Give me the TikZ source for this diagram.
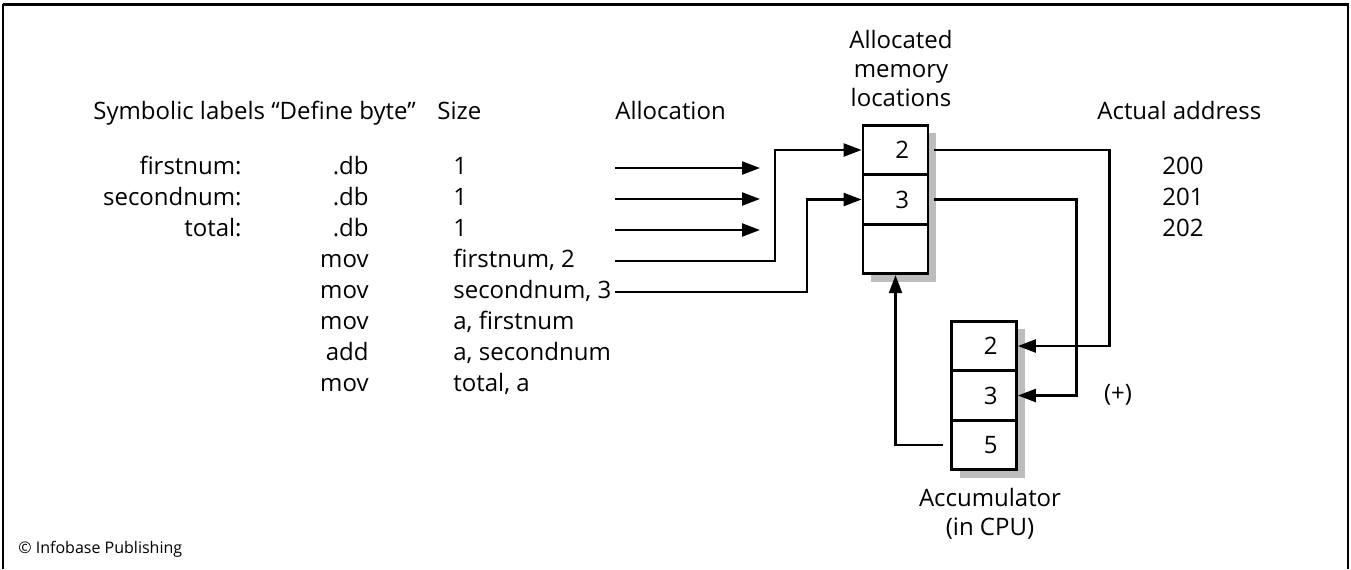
\documentclass[tikz,border=0pt]{standalone}
\usepackage{fontspec}
\setmainfont{Open Sans}
\usetikzlibrary{arrows.meta,shadows}
\definecolor{shadowgray}{gray}{0.74}

\begin{document}
\begin{tikzpicture}[x=0.5pt,y=-0.5pt,
	every node/.style={font=\fontsize{12}{14.5}\selectfont, inner sep=0pt},
	row/.style={text height=9pt, text depth=2.5pt},
	cell/.style={draw, line width=1.4pt, fill=white, minimum height=24.75pt,
		text width=13.5pt, inner xsep=9.5pt, align=right,
		drop shadow={shadow xshift=4pt, shadow yshift=-4pt, fill=shadowgray, opacity=1}},
	arr/.style={-{Triangle[length=9pt,width=6.5pt]}, line width=1.2pt}]
	\useasboundingbox (0,0) rectangle (1351,569);
	% frame
	\draw[line width=1pt] (3,569) -- (3,4);
	\draw[line width=1pt] (1348,569) -- (1348,4);
	\draw[line width=1.5pt] (2.5,4) -- (1348.5,4);
	% column heads
	\node[row, anchor=west] (hsym) at (93,113) {Symbolic labels “Define byte”};
	\node[row, anchor=west] (hsize) at (437,113) {Size};
	\node[row, anchor=west] (halloc) at (615,113) {Allocation};
	\node[align=center] (lmem) at (901,68) {Allocated\\memory\\locations};
	\node[row, anchor=west] (haddr) at (1097,113) {Actual address};
	% program
	\node[row, anchor=east] (lfirst) at (242,168) {firstnum:};
	\node[row, anchor=east] (lsecond) at (242,199) {secondnum:};
	\node[row, anchor=east] (ltotal) at (242,230) {total:};
	\foreach \op/\arg [count=\i] in {.db/1, .db/1, .db/1, mov/{firstnum, 2}, mov/{secondnum, 3}, mov/{a, firstnum}, add/{a, secondnum}, mov/{total, a}} {
		\node[row, anchor=east] (op\i) at (369,{137+31*\i}) {\op};
		\node[row, anchor=west] (arg\i) at (453,{137+31*\i}) {\arg};
	}
	\foreach \addr [count=\i] in {200,201,202} { \node[row, anchor=west] (addr\i) at (1162,{137+31*\i}) {\addr}; }
	% memory and accumulator
	\node[cell] (m1) at (895.5,150) {2};
	\node[cell] (m2) at (895.5,199.5) {3};
	\node[cell] (m3) at (895.5,249) {};
	\node[cell] (a1) at (984,346) {2};
	\node[cell] (a2) at (984,395.5) {3};
	\node[cell] (a3) at (984,445) {5};
	\node[row] (plus) at (1118,395) {(+)};
	\node[align=center] (lacc) at (990,514) {Accumulator\\(in CPU)};
	% allocation arrows
	\foreach \i in {1,2,3} {
		\coordinate (src\i) at (615,{137+31*\i});
		\coordinate (dst\i) at (760,{137+31*\i});
		\draw[arr] (src\i) -- (dst\i);
	}
	\coordinate (srcA) at (615,261);
	\coordinate (srcB) at (615,292);
	\draw[arr] (srcA) -- ++(160,0) |- (m1.west);
	\draw[arr] (srcB) -- ++(192,0) |- (m2.west);
	\draw[arr] ([xshift=2.5pt]m1.east) -- ++(175,0) |- (a1.east);
	\draw[arr] ([xshift=2.5pt]m2.east) -- ++(142,0) |- (a2.east);
	\draw[arr] ([xshift=-3.5pt]a3.west) -| (m3.south);
	\node[anchor=west, font=\fontsize{8}{10}\selectfont] (credit) at (18,549) {© Infobase Publishing};
\end{tikzpicture}
\end{document}
